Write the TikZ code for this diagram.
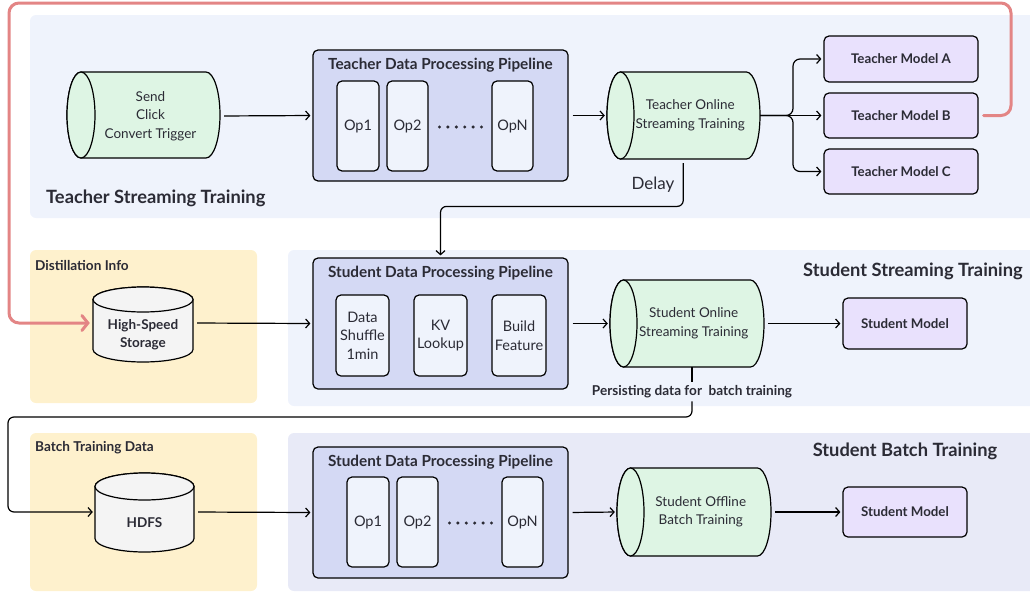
\documentclass[tikz,border=0pt]{standalone}
\usepackage{fontspec}
\setmainfont{Lato}
\usetikzlibrary{arrows.meta}
\definecolor{tregion}{HTML}{EFF3FC}
\definecolor{bregion}{HTML}{E8EAF7}
\definecolor{yregion}{HTML}{FEF1CD}
\definecolor{pipefill}{HTML}{D4D9F4}
\definecolor{opfill}{HTML}{EFF3FC}
\definecolor{cylfill}{HTML}{DEF5E4}
\definecolor{modelfill}{HTML}{E9E1FD}
\definecolor{storefill}{HTML}{F4F4F4}
\definecolor{redline}{HTML}{E38585}
\definecolor{txt}{HTML}{2B2B35}
\newcommand\hcyl[5]{% x0, x1, yc, ry, rx
  \filldraw[cylshape] (#1+#5,#3+#4) -- (#2-#5,#3+#4) arc[start angle=90,end angle=-90,x radius=#5,y radius=#4] -- (#1+#5,#3-#4) arc[start angle=270,end angle=90,x radius=#5,y radius=#4] -- cycle;
  \filldraw[cylshape] (#1+#5,#3) ellipse[x radius=#5,y radius=#4];}
\newcommand\vcyl[5]{% xc, rx, ytop, ybot, ry
  \filldraw[storeshape] (#1-#2,#3-#5) -- (#1-#2,#4+#5) arc[start angle=180,end angle=360,x radius=#2,y radius=#5] -- (#1+#2,#3-#5) arc[start angle=0,end angle=180,x radius=#2,y radius=#5] -- cycle;
  \filldraw[storeshape] (#1,#3-#5) ellipse[x radius=#2,y radius=#5];}
\begin{document}
\begin{tikzpicture}[x=1pt,y=1pt,
  every node/.style={text=txt},
  regionbox/.style={rounded corners=6pt},
  pipebox/.style={draw=black,line width=1.2pt,fill=pipefill,rounded corners=5pt,inner sep=0pt},
  opbox/.style={draw=black,line width=1.2pt,fill=opfill,rounded corners=5pt,inner sep=0pt,align=center,font=\fontsize{14.5}{18.5}\selectfont},
  modelbox/.style={draw=black,line width=1.2pt,fill=modelfill,rounded corners=5pt,inner sep=0pt,font=\bfseries\fontsize{13.3}{16}\selectfont},
  cylshape/.style={draw=black,line width=1.2pt,fill=cylfill},
  storeshape/.style={draw=black,line width=1.2pt,fill=storefill},
  cyltext/.style={inner sep=0pt,align=center,font=\fontsize{13.5}{18.5}\selectfont},
  pipetitle/.style={font=\bfseries\fontsize{15.3}{18}\selectfont,inner sep=1pt},
  regiontitle/.style={font=\bfseries\fontsize{18.3}{22}\selectfont,inner sep=0pt},
  smalltitle/.style={font=\bfseries\fontsize{13.6}{16}\selectfont,inner sep=0pt},
  plainline/.style={draw=black,line width=1.2pt},
  conn/.style={draw=black,line width=1.2pt,-{Straight Barb[length=4pt,width=9pt]},shorten >=2pt},
  redconn/.style={draw=redline,line width=3pt,rounded corners=10pt,line cap=round,-{Straight Barb[length=6pt,width=15pt,line cap=round]}},
  dotmark/.style={fill=txt}
]
\useasboundingbox (0,0) rectangle (1030,-592);
% regions
\fill[tregion,regionbox] (30,-15) rectangle (1045,-218);
\fill[yregion,regionbox] (30,-250) rectangle (257,-403);
\fill[tregion,regionbox] (288,-250) rectangle (1045,-406);
\fill[yregion,regionbox] (30,-433) rectangle (257,-591);
\fill[bregion,regionbox] (288,-433) rectangle (1045,-591);
\node[regiontitle,anchor=west] (ttitle) at (46,-198) {Teacher Streaming Training};
\node[regiontitle] (sstitle) at (913,-271) {Student Streaming Training};
\node[regiontitle] (sbtitle) at (905,-451) {Student Batch Training};
\node[smalltitle,anchor=west] (dinfo) at (35,-265) {Distillation Info};
\node[smalltitle,anchor=west] (btdata) at (35,-448) {Batch Training Data};

% ---------- teacher row ----------
\hcyl{67}{220}{-115}{43}{14}
\node[cyltext,minimum width=139,minimum height=86] (send) at (150.5,-116) {Send\\Click\\Convert Trigger};
\node[pipebox,minimum width=255,minimum height=131] (tpipe) at (440.5,-115.5) {};
\node[pipetitle] (tptitle) at (440.5,-65) {Teacher Data Processing Pipeline};
\node[opbox,minimum width=42,minimum height=90] (top1) at (358,-126) {Op1};
\node[opbox,minimum width=41,minimum height=90] (top2) at (407.5,-126) {Op2};
\node[opbox,minimum width=41,minimum height=90] (topn) at (512.5,-126) {OpN};
\foreach \i in {0,...,5} \fill[dotmark] (439.5+8.4*\i,-127) circle (1.7);
\hcyl{607}{760}{-115.5}{43.5}{13.5}
\node[cyltext,minimum width=139.5,minimum height=87] (tonline) at (690.25,-115.5) {Teacher Online\\Streaming Training};
\node[modelbox,minimum width=154,minimum height=46] (tma) at (901,-59) {Teacher Model A};
\node[modelbox,minimum width=154,minimum height=45] (tmb) at (901,-115.5) {Teacher Model B};
\node[modelbox,minimum width=154,minimum height=45] (tmc) at (901,-171.5) {Teacher Model C};
\node[font=\fontsize{17}{20}\selectfont,inner sep=0pt] (delay) at (653,-185) {Delay};

\draw[conn,shorten <=4pt] (send.east) -- (tpipe.west);
\draw[conn,shorten <=4pt] (tpipe.east) -- ([xshift=-13.5pt]tonline.west);
\coordinate (split) at (793,-115.5);
\draw[conn] (tonline.east) -- (tmb.west);
\draw[conn,rounded corners=7pt] (tonline.east) -- (split) |- (tma.west);
\draw[conn,rounded corners=7pt] (tonline.east) -- (split) |- (tmc.west);

% ---------- student streaming row ----------
\vcyl{143}{50}{-287}{-362}{12.5}
\node[inner sep=0pt,align=center,font=\bfseries\fontsize{13.5}{18}\selectfont,minimum width=100] (hss) at (143,-335) {High-Speed\\Storage};
\node[pipebox,minimum width=255,minimum height=131] (spipe) at (440.5,-323.5) {};
\node[pipetitle] (sptitle) at (440.5,-273) {Student Data Processing Pipeline};
\node[opbox,minimum width=53,minimum height=81] (shuffle) at (362.5,-335.5) {Data\\Shuffle\\1min};
\node[opbox,minimum width=53,minimum height=81] (kv) at (440.5,-335.5) {KV\\Lookup};
\node[opbox,minimum width=54,minimum height=81] (build) at (519,-335.5) {Build\\Feature};
\hcyl{610}{764}{-323.5}{43.5}{13.5}
\node[cyltext,minimum width=140.5,minimum height=87] (sonline) at (693.75,-323.5) {Student Online\\Streaming Training};
\node[modelbox,minimum width=124,minimum height=51] (smodel) at (905,-323.5) {Student Model};
\node[smalltitle,inner sep=3pt] (persist) at (692,-392) {Persisting data for\ \ batch training};

\draw[conn,shorten <=4pt] ([yshift=12pt]hss.east) -- (spipe.west);
\draw[conn,shorten <=4pt] (spipe.east) -- ([xshift=-13.5pt]sonline.west);
\draw[conn,shorten <=4pt] (sonline.east) -- (smodel.west);
\draw[conn,shorten <=4pt,rounded corners=6pt] ([xshift=-7pt]tonline.south) |- ([yshift=51pt]spipe.north) -- (spipe.north);
\draw[plainline,shorten <=1pt] (persist.north) -- (persist.north |- sonline.south);

% ---------- student batch row ----------
\vcyl{144.5}{49.5}{-473}{-552}{13.5}
\node[inner sep=0pt,font=\bfseries\fontsize{13.5}{16}\selectfont,minimum width=99] (hdfs) at (144.5,-523) {HDFS};
\node[pipebox,minimum width=255,minimum height=131] (bpipe) at (440.5,-512.5) {};
\node[pipetitle] (bptitle) at (440.5,-462) {Student Data Processing Pipeline};
\node[opbox,minimum width=42,minimum height=90] (bop1) at (368,-522) {Op1};
\node[opbox,minimum width=41,minimum height=90] (bop2) at (417.5,-522) {Op2};
\node[opbox,minimum width=41,minimum height=90] (bopn) at (522.5,-522) {OpN};
\foreach \i in {0,...,5} \fill[dotmark] (449.5+8.4*\i,-523) circle (1.7);
\hcyl{617}{771}{-512}{44}{13.5}
\node[cyltext,minimum width=140.5,minimum height=88] (soffline) at (700.75,-512) {Student Offline\\Batch Training};
\node[modelbox,minimum width=124,minimum height=50] (bmodel) at (905,-512) {Student Model};

\draw[conn,shorten <=4pt] ([yshift=11pt]hdfs.east) -- (bpipe.west);
\draw[conn,shorten <=4pt] (bpipe.east) -- ([xshift=-13.5pt]soffline.west);
\draw[conn,shorten <=4pt] (soffline.east) -- (bmodel.west);
\coordinate (pcorner) at (8,-417);
\draw[conn,rounded corners=6pt] (persist.south) |- (pcorner) |- ([yshift=11pt]hdfs.west);

% ---------- red feedback ----------
\coordinate (rtop) at (1011,-3);
\coordinate (rleft) at (9,-323);
\draw[redconn,shorten <=5pt,shorten >=3pt] (tmb.east) -| (rtop) -| (rleft) -- ([yshift=12pt]hss.west);
\end{tikzpicture}
\end{document}
